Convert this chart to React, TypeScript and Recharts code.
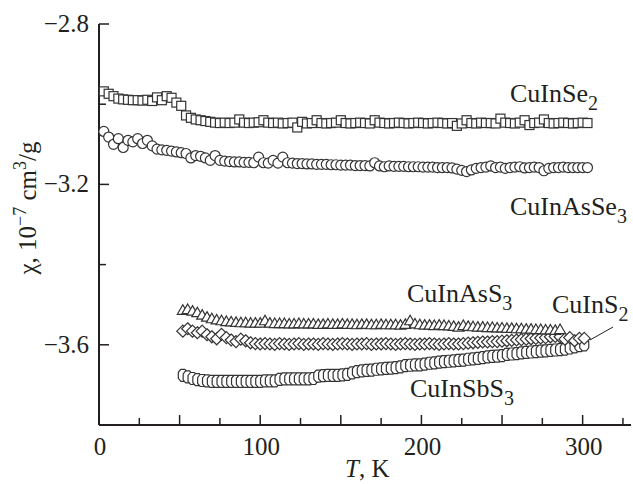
import React from 'react';
import { ScatterChart, Scatter, XAxis, YAxis } from 'recharts';

// [T (K), chi (1e-7 cm^3/g)]
const cuInSe2: [number, number][] = [
  [3, -2.968], [6, -2.974], [9, -2.98], [12, -2.986], [15, -2.988], [18, -2.989], [21, -2.99], [24, -2.99],
  [27, -2.991], [30, -2.989], [33, -2.992], [36, -2.983], [39, -2.99], [42, -2.98], [45, -2.984], [48, -2.996],
  [51, -3.004], [54, -3.028], [57, -3.034], [60, -3.038], [63, -3.04], [66, -3.042], [69, -3.044], [72, -3.046],
  [75, -3.047], [78, -3.046], [81, -3.047], [84, -3.046], [87, -3.038], [90, -3.046], [93, -3.047], [96, -3.046],
  [99, -3.045], [102, -3.04], [105, -3.046], [108, -3.047], [111, -3.046], [114, -3.048], [117, -3.047], [120, -3.046],
  [123, -3.058], [126, -3.044], [129, -3.048], [132, -3.047], [135, -3.04], [138, -3.047], [141, -3.048], [144, -3.047],
  [147, -3.046], [150, -3.04], [153, -3.047], [156, -3.048], [159, -3.047], [162, -3.046], [165, -3.047], [168, -3.048],
  [171, -3.04], [174, -3.046], [177, -3.047], [180, -3.048], [183, -3.047], [186, -3.046], [189, -3.047], [192, -3.048],
  [195, -3.047], [198, -3.046], [201, -3.047], [204, -3.048], [207, -3.047], [210, -3.046], [213, -3.047], [216, -3.048],
  [219, -3.047], [222, -3.054], [225, -3.048], [228, -3.04], [231, -3.047], [234, -3.048], [237, -3.046], [240, -3.047],
  [243, -3.047], [246, -3.048], [249, -3.036], [252, -3.046], [255, -3.047], [258, -3.048], [261, -3.046], [264, -3.04],
  [267, -3.052], [270, -3.047], [273, -3.046], [276, -3.038], [279, -3.047], [282, -3.048], [285, -3.047], [288, -3.046],
  [291, -3.047], [294, -3.048], [297, -3.047], [300, -3.046], [303, -3.047],
];

const cuInAsSe3: [number, number][] = [
  [3, -3.068], [6, -3.082], [9, -3.1], [12, -3.086], [15, -3.108], [18, -3.09], [21, -3.094], [24, -3.086],
  [27, -3.098], [30, -3.09], [33, -3.104], [36, -3.112], [39, -3.114], [42, -3.115], [45, -3.117], [48, -3.119],
  [51, -3.121], [54, -3.123], [57, -3.134], [60, -3.128], [63, -3.13], [66, -3.134], [69, -3.14], [72, -3.128],
  [75, -3.14], [78, -3.142], [81, -3.143], [84, -3.144], [87, -3.144], [90, -3.145], [93, -3.145], [96, -3.146],
  [99, -3.132], [102, -3.146], [105, -3.147], [108, -3.14], [111, -3.147], [114, -3.132], [117, -3.146], [120, -3.147],
  [123, -3.148], [126, -3.148], [129, -3.149], [132, -3.149], [135, -3.15], [138, -3.15], [141, -3.15], [144, -3.151],
  [147, -3.151], [150, -3.152], [153, -3.152], [156, -3.152], [159, -3.153], [162, -3.153], [165, -3.153], [168, -3.154],
  [171, -3.146], [174, -3.154], [177, -3.156], [180, -3.154], [183, -3.155], [186, -3.155], [189, -3.155], [192, -3.156],
  [195, -3.156], [198, -3.156], [201, -3.157], [204, -3.157], [207, -3.157], [210, -3.158], [213, -3.158], [216, -3.158],
  [219, -3.159], [222, -3.162], [225, -3.165], [228, -3.168], [231, -3.164], [234, -3.16], [237, -3.158], [240, -3.157],
  [243, -3.154], [246, -3.158], [249, -3.157], [252, -3.16], [255, -3.158], [258, -3.157], [261, -3.156], [264, -3.159],
  [267, -3.158], [270, -3.157], [273, -3.158], [276, -3.166], [279, -3.16], [282, -3.158], [285, -3.158], [288, -3.157],
  [291, -3.158], [294, -3.158], [297, -3.158], [300, -3.158], [303, -3.158],
];

const cuInAsS3: [number, number][] = [
  [52, -3.514], [55, -3.512], [58, -3.516], [61, -3.52], [64, -3.526], [67, -3.531], [70, -3.535], [73, -3.538],
  [76, -3.54], [79, -3.542], [82, -3.543], [85, -3.544], [88, -3.545], [91, -3.545], [94, -3.546], [97, -3.546],
  [100, -3.546], [103, -3.54], [106, -3.546], [109, -3.547], [112, -3.547], [115, -3.547], [118, -3.548], [121, -3.548],
  [124, -3.547], [127, -3.548], [130, -3.548], [133, -3.548], [136, -3.549], [139, -3.549], [142, -3.548], [145, -3.549],
  [148, -3.549], [151, -3.548], [154, -3.549], [157, -3.549], [160, -3.55], [163, -3.549], [166, -3.549], [169, -3.55],
  [172, -3.55], [175, -3.549], [178, -3.55], [181, -3.55], [184, -3.55], [187, -3.551], [190, -3.549], [193, -3.54],
  [196, -3.548], [199, -3.55], [202, -3.551], [205, -3.551], [208, -3.552], [211, -3.551], [214, -3.552], [217, -3.553],
  [220, -3.554], [223, -3.556], [226, -3.552], [229, -3.554], [232, -3.555], [235, -3.556], [238, -3.556], [241, -3.557],
  [244, -3.557], [247, -3.558], [250, -3.558], [253, -3.559], [256, -3.559], [259, -3.56], [262, -3.56], [265, -3.561],
  [268, -3.561], [271, -3.562], [274, -3.562], [277, -3.563], [280, -3.563], [283, -3.564], [286, -3.562],
];

const cuInS2: [number, number][] = [
  [52, -3.566], [55, -3.56], [58, -3.566], [61, -3.57], [64, -3.566], [67, -3.575], [70, -3.58], [73, -3.585],
  [76, -3.574], [79, -3.582], [82, -3.588], [85, -3.592], [88, -3.586], [91, -3.59], [94, -3.595], [97, -3.597],
  [100, -3.598], [103, -3.597], [106, -3.598], [109, -3.599], [112, -3.597], [115, -3.598], [118, -3.599], [121, -3.598],
  [124, -3.597], [127, -3.599], [130, -3.598], [133, -3.598], [136, -3.599], [139, -3.597], [142, -3.598], [145, -3.599],
  [148, -3.598], [151, -3.597], [154, -3.598], [157, -3.599], [160, -3.598], [163, -3.598], [166, -3.597], [169, -3.599],
  [172, -3.598], [175, -3.598], [178, -3.597], [181, -3.598], [184, -3.599], [187, -3.598], [190, -3.597], [193, -3.598],
  [196, -3.599], [199, -3.598], [202, -3.598], [205, -3.597], [208, -3.598], [211, -3.599], [214, -3.598], [217, -3.597],
  [220, -3.598], [223, -3.598], [226, -3.597], [229, -3.596], [232, -3.595], [235, -3.594], [238, -3.593], [241, -3.593],
  [244, -3.592], [247, -3.592], [250, -3.591], [253, -3.59], [256, -3.589], [259, -3.588], [262, -3.587], [265, -3.586],
  [268, -3.585], [271, -3.584], [274, -3.583], [277, -3.582], [280, -3.58], [283, -3.579], [286, -3.58], [289, -3.586],
  [292, -3.582], [295, -3.59], [298, -3.584], [301, -3.584],
];

const cuInSbS3: [number, number][] = [
  [52, -3.676], [55, -3.68], [58, -3.684], [61, -3.687], [64, -3.689], [67, -3.69], [70, -3.691], [73, -3.691],
  [76, -3.691], [79, -3.691], [82, -3.691], [85, -3.691], [88, -3.691], [91, -3.691], [94, -3.691], [97, -3.691],
  [100, -3.691], [103, -3.69], [106, -3.69], [109, -3.69], [112, -3.686], [115, -3.685], [118, -3.685], [121, -3.685],
  [124, -3.685], [127, -3.685], [130, -3.685], [133, -3.684], [136, -3.678], [139, -3.677], [142, -3.676], [145, -3.676],
  [148, -3.676], [151, -3.675], [154, -3.674], [157, -3.67], [160, -3.667], [163, -3.665], [166, -3.664], [169, -3.663],
  [172, -3.661], [175, -3.66], [178, -3.659], [181, -3.658], [184, -3.657], [187, -3.655], [190, -3.652], [193, -3.651],
  [196, -3.65], [199, -3.65], [202, -3.648], [205, -3.646], [208, -3.645], [211, -3.643], [214, -3.642], [217, -3.641],
  [220, -3.64], [223, -3.639], [226, -3.638], [229, -3.636], [232, -3.635], [235, -3.634], [238, -3.632], [241, -3.63],
  [244, -3.629], [247, -3.628], [250, -3.627], [253, -3.624], [256, -3.623], [259, -3.622], [262, -3.62], [265, -3.619],
  [268, -3.618], [271, -3.617], [274, -3.616], [277, -3.615], [280, -3.614], [283, -3.613], [286, -3.612], [289, -3.611],
  [292, -3.608], [295, -3.605], [298, -3.602], [301, -3.6],
];

const xTicks = [0, 25, 50, 75, 100, 125, 150, 175, 200, 225, 250, 275, 300, 325];
const xLabeled = [0, 100, 200, 300];
const yTicks = [-3.6, -3.4, -3.2, -3.0, -2.8];
const yLabeled = [-3.6, -3.2, -2.8];

const FONT = '"Liberation Serif", "Times New Roman", serif';
const INK = '#231f20';
const MK = '#333333';

const toPts = (arr: [number, number][]) => arr.map(([T, chi]) => ({ T, chi }));

const XTick = (props: any) => {
  const { x, y, payload } = props;
  const v = payload.value;
  const len = v % 50 === 0 ? 10 : 7;
  return (
    <g>
      <line x1={x} x2={x} y1={y} y2={y - len} stroke={INK} strokeWidth={1.5} />
      {xLabeled.includes(v) && (
        <text x={x + 1} y={y + 30} textAnchor="middle" fontSize={25} fontFamily={FONT} fill={INK}>
          {v}
        </text>
      )}
    </g>
  );
};

const YTick = (props: any) => {
  const { x, y, payload } = props;
  const v = payload.value;
  const major = Math.round(v * 10) % 4 === 0;
  const len = major ? 10 : 7;
  const labeled = yLabeled.some((t) => Math.abs(t - v) < 1e-6);
  return (
    <g>
      <line x1={x} x2={x + len} y1={y} y2={y} stroke={INK} strokeWidth={1.5} />
      {labeled && (
        <text x={x - 10} y={y + 8} textAnchor="end" fontSize={25} fontFamily={FONT} fill={INK}>
          {'\u2212' + Math.abs(v).toFixed(1)}
        </text>
      )}
    </g>
  );
};

const Square = (p: any) => (
  <rect x={p.cx - 4.5} y={p.cy - 4.5} width={9} height={9} fill="#fff" stroke={MK} strokeWidth={1.2} />
);
const Circ = (p: any) => <circle cx={p.cx} cy={p.cy} r={5} fill="#fff" stroke={MK} strokeWidth={1.2} />;
const Tri = (p: any) => (
  <polygon
    points={`${p.cx},${p.cy - 5.5} ${p.cx + 5.5},${p.cy + 4} ${p.cx - 5.5},${p.cy + 4}`}
    fill="#fff"
    stroke={MK}
    strokeWidth={1.2}
  />
);
const Diam = (p: any) => (
  <polygon
    points={`${p.cx},${p.cy - 6} ${p.cx + 6},${p.cy} ${p.cx},${p.cy + 6} ${p.cx - 6},${p.cy}`}
    fill="#fff"
    stroke={MK}
    strokeWidth={1.2}
  />
);
const Oct = (p: any) => {
  const a = 4.5;
  const b = 6;
  const c = 2;
  const d = 3;
  const { cx, cy } = p;
  const pts = [
    [cx - c, cy - b], [cx + c, cy - b], [cx + a, cy - d], [cx + a, cy + d],
    [cx + c, cy + b], [cx - c, cy + b], [cx - a, cy + d], [cx - a, cy - d],
  ]
    .map((q) => q.join(','))
    .join(' ');
  return <polygon points={pts} fill="#fff" stroke={MK} strokeWidth={1.2} />;
};

const Label = ({ x, y, main, sub }: { x: number; y: number; main: string; sub: string }) => (
  <text x={x} y={y} fontSize={26} fontFamily={FONT} fill={INK}>
    {main}
    <tspan fontSize={20} dy={8}>
      {sub}
    </tspan>
  </text>
);

export default function App() {
  return (
    <div style={{ position: 'absolute', left: 0, top: 0, width: 633, height: 484, background: '#fff' }}>
      <ScatterChart width={633} height={484} margin={{ top: 24, right: 2, left: 0, bottom: 0 }}>
        <XAxis
          type="number"
          dataKey="T"
          domain={[0, 330]}
          ticks={xTicks}
          interval={0}
          height={59}
          tickSize={0}
          tickMargin={0}
          tickLine={false}
          axisLine={{ stroke: INK, strokeWidth: 2 }}
          tick={<XTick />}
        />
        <YAxis
          type="number"
          dataKey="chi"
          domain={[-3.8, -2.8]}
          ticks={yTicks}
          interval={0}
          width={99}
          tickSize={0}
          tickMargin={0}
          tickLine={false}
          axisLine={{ stroke: INK, strokeWidth: 2 }}
          tick={<YTick />}
        />
        <Scatter data={toPts(cuInSbS3)} shape={Oct} isAnimationActive={false} />
        <Scatter data={toPts(cuInS2)} shape={Diam} isAnimationActive={false} />
        <Scatter data={toPts(cuInAsS3)} shape={Tri} isAnimationActive={false} />
        <Scatter data={toPts(cuInAsSe3)} shape={Circ} isAnimationActive={false} />
        <Scatter data={toPts(cuInSe2)} shape={Square} isAnimationActive={false} />
      </ScatterChart>
      <svg
        width={633}
        height={484}
        style={{ position: 'absolute', left: 0, top: 0, pointerEvents: 'none' }}
      >
        <Label x={510} y={102} main="CuInSe" sub="2" />
        <Label x={510} y={215} main="CuInAsSe" sub="3" />
        <Label x={407} y={302} main="CuInAsS" sub="3" />
        <Label x={552} y={313} main="CuInS" sub="2" />
        <Label x={410} y={397} main="CuInSbS" sub="3" />
        <line x1={590} y1={340} x2={613} y2={327} stroke={INK} strokeWidth={1} />
        <text x={345} y={477} fontSize={25} fontFamily={FONT} fill={INK}>
          <tspan fontStyle="italic">T</tspan>, K
        </text>
        <text
          transform="translate(36,208) rotate(-90)"
          textAnchor="middle"
          fontSize={25}
          fontFamily={FONT}
          fill={INK}
        >
          {'\u03C7, 10'}
          <tspan fontSize={18} dy={-10}>
            {'\u22127'}
          </tspan>
          <tspan dy={10}>{' cm'}</tspan>
          <tspan fontSize={18} dy={-10}>
            3
          </tspan>
          <tspan dy={10}>/g</tspan>
        </text>
      </svg>
    </div>
  );
}
